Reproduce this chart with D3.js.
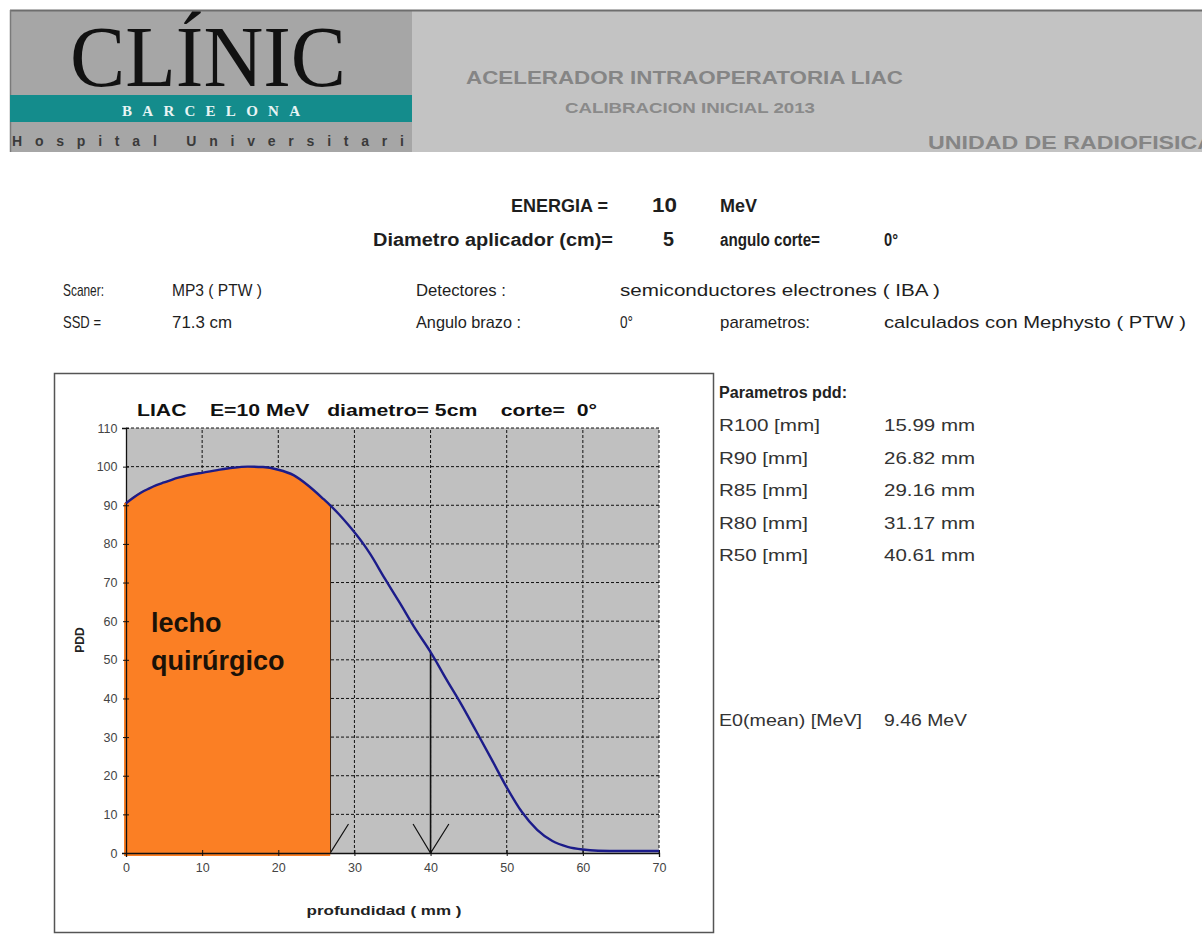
<!DOCTYPE html>
<html><head><meta charset="utf-8">
<script src="https://cdn.jsdelivr.net/npm/d3@7"></script>
<style>
body{margin:0;background:#fff;}
svg{display:block;font-family:"Liberation Sans",Arial,sans-serif;}
</style></head>
<body>
<svg id="c" width="1202" height="935"></svg>
<script>
// ---- data ----
const depth = [0,1,2,3,4,5,6,7,8,9,10,12,14,16,18,20,22,24,26,26.82,28,29.16,30,31.17,32,34,36,38,40,40.61,42,44,46,48,50,52,54,56,58,60,62,65,70];
const pdd   = [90.5,92,93.3,94.3,95.2,95.9,96.6,97.2,97.7,98.1,98.4,99.1,99.7,100,99.9,99.2,97.8,95,91.5,90,87.6,85,83,80,77.6,71,64.6,58,52,50,45.2,38.6,31.5,24.3,17,10.6,6,3.1,1.6,0.9,0.6,0.5,0.5];
const xTicks = [0,10,20,30,40,50,60,70];
const yTicks = [0,10,20,30,40,50,60,70,80,90,100,110];
const paramLabels = ["R100 [mm]","R90 [mm]","R85 [mm]","R80 [mm]","R50 [mm]"];
const paramValues = ["15.99 mm","26.82 mm","29.16 mm","31.17 mm","40.61 mm"];
const bedLimit = 26.82;      // R90 - lecho quirúrgico
const arrowDepths = [26.82, 40];

const svg = d3.select("#c");

// ---- header ----
svg.append("rect").attr("x",10).attr("y",10).attr("width",1192).attr("height",142).attr("fill","#c3c3c3");
svg.append("rect").attr("x",10).attr("y",10).attr("width",402).attr("height",142).attr("fill","#a6a6a6");
svg.append("line").attr("x1",10).attr("x2",1202).attr("y1",10.5).attr("y2",10.5).attr("stroke","#6e6e6e").attr("stroke-width",2);
svg.append("line").attr("x1",10.5).attr("x2",10.5).attr("y1",10).attr("y2",152).attr("stroke","#7a7a7a").attr("stroke-width",1.5);
svg.append("rect").attr("x",10).attr("y",95).attr("width",402).attr("height",27).attr("fill","#148c8c");
svg.append("text").attr("x",70).attr("y",86).attr("font-family","'Liberation Serif','Times New Roman',serif")
  .attr("font-size",86).attr("textLength",276).attr("lengthAdjust","spacingAndGlyphs").attr("fill","#111").text("CLÍNIC");
svg.append("text").attr("x",122).attr("y",116).attr("font-family","'Liberation Serif','Times New Roman',serif")
  .attr("font-size",15).attr("font-weight","bold").attr("textLength",178).attr("fill","#e8f4f4").text("BARCELONA");
svg.append("text").attr("x",12).attr("y",146).attr("font-size",14).attr("font-weight","bold").attr("fill","#3a3a3a")
  .attr("textLength",392).text("Hospital   Universitari");
svg.append("text").attr("x",466).attr("y",84).attr("font-size",18).attr("font-weight","bold").attr("fill","#858585")
  .attr("textLength",437).attr("lengthAdjust","spacingAndGlyphs").text("ACELERADOR INTRAOPERATORIA LIAC");
svg.append("text").attr("x",565).attr("y",113).attr("font-size",15).attr("font-weight","bold").attr("fill","#8a8a8a")
  .attr("textLength",250).attr("lengthAdjust","spacingAndGlyphs").text("CALIBRACION INICIAL 2013");
svg.append("text").attr("x",928).attr("y",149).attr("font-size",18).attr("font-weight","bold").attr("fill","#858585")
  .attr("textLength",286).attr("lengthAdjust","spacingAndGlyphs").text("UNIDAD DE RADIOFISICA");

// ---- info ----
function txt(x,y,s,opt={}){
  const t=svg.append("text").attr("x",x).attr("y",y).attr("font-size",opt.size||17)
    .attr("fill",opt.fill||"#1e1e1e").text(s);
  if(opt.bold) t.attr("font-weight","bold");
  if(opt.anchor) t.attr("text-anchor",opt.anchor);
  if(opt.len) t.attr("textLength",opt.len).attr("lengthAdjust","spacingAndGlyphs");
  return t;
}
txt(608,212,"ENERGIA =",{bold:true,size:18,anchor:"end",len:97});
txt(652,212,"10",{bold:true,size:21,len:25});
txt(720,212,"MeV",{bold:true,size:18,len:37});
txt(373,246,"Diametro aplicador (cm)=",{bold:true,size:18,len:240});
txt(663,246,"5",{bold:true,size:21,len:11});
txt(720,246,"angulo corte=",{bold:true,size:18,len:100});
txt(884,246,"0°",{bold:true,size:18,len:14});
txt(63,296,"Scaner:",{len:41});
txt(172,296,"MP3 ( PTW )",{len:90});
txt(416,296,"Detectores :",{len:90});
txt(620,296,"semiconductores electrones ( IBA )",{len:320});
txt(63,328,"SSD =",{len:38});
txt(172,328,"71.3 cm",{len:60});
txt(416,328,"Angulo brazo :",{len:105});
txt(620,328,"0°",{len:13});
txt(720,328,"parametros:",{len:90});
txt(884,328,"calculados con Mephysto ( PTW )",{len:302});

// ---- parameters ----
txt(719,398,"Parametros pdd:",{bold:true,size:16,fill:"#222",len:128});
paramLabels.forEach((l,i)=>{
  txt(719,431+i*32.5,l,{size:17,fill:"#333",len:i===0?101:89});
  txt(884,431+i*32.5,paramValues[i],{size:17,fill:"#333",len:91});
});
txt(719,726,"E0(mean) [MeV]",{size:17,fill:"#333",len:143});
txt(884,726,"9.46 MeV",{size:17,fill:"#333",len:83});

// ---- chart frame ----
svg.append("rect").attr("x",54.5).attr("y",373.5).attr("width",659).attr("height",559)
  .attr("fill","#fff").attr("stroke","#555").attr("stroke-width",1.5);

const x = d3.scaleLinear().domain([0,70]).range([126,659]);
const y = d3.scaleLinear().domain([0,110]).range([853,428]);
const g = svg.append("g");
g.append("rect").attr("x",x(0)).attr("y",y(110)).attr("width",x(70)-x(0)).attr("height",y(0)-y(110)).attr("fill","#c0c0c0");

// grid
g.selectAll(".gx").data(xTicks.filter(d=>d>0)).join("line")
  .attr("x1",d=>x(d)).attr("x2",d=>x(d)).attr("y1",y(0)).attr("y2",y(110))
  .attr("stroke","#111").attr("stroke-width",1).attr("stroke-dasharray","3,2");
g.selectAll(".gy").data(yTicks.filter(d=>d>0)).join("line")
  .attr("x1",x(0)).attr("x2",x(70)).attr("y1",d=>y(d)).attr("y2",d=>y(d))
  .attr("stroke","#111").attr("stroke-width",1).attr("stroke-dasharray","3,2");

// arrows
const arrowHalfL = 2.3, arrowHalfR = 2.4, arrowH = 7.5;
arrowDepths.forEach(a=>{
  const i = depth.indexOf(a);
  const top = i>=0 ? pdd[i] : pdd[d3.bisectLeft(depth,a)];
  g.append("line").attr("x1",x(a)).attr("x2",x(a)).attr("y1",y(top)).attr("y2",y(0))
    .attr("stroke","#111").attr("stroke-width",1.6);
  g.append("path").attr("d",`M${x(a-arrowHalfL)},${y(arrowH)}L${x(a)},${y(0)}L${x(a+arrowHalfR)},${y(arrowH)}`)
    .attr("fill","none").attr("stroke","#111").attr("stroke-width",1.2);
});

// orange bed area
const bed = depth.map((d,i)=>[d,pdd[i]]).filter(p=>p[0]<=bedLimit);
const bedArea = d3.area().x(p=>x(p[0])).y0(y(0)+3).y1(p=>y(p[1]));
g.append("path").datum(bed).attr("d",bedArea).attr("fill","#fb7f24").attr("transform","translate(-2,0)");
g.append("path").datum(bed).attr("d",bedArea).attr("fill","#fb7f24");

// axes
const xAxis = d3.axisBottom(x).tickValues(xTicks).tickSize(4).tickFormat(d3.format("d"));
const yAxis = d3.axisLeft(y).tickValues(yTicks).tickSize(4).tickFormat(d3.format("d"));
const gx = g.append("g").attr("transform",`translate(0,${y(0)})`).call(xAxis);
const gy = g.append("g").attr("transform",`translate(${x(0)},0)`).call(yAxis);
[gx,gy].forEach(a=>{
  a.select(".domain").attr("stroke","#111").attr("stroke-width",1.3);
  a.selectAll(".tick line").attr("stroke","#111");
  a.selectAll("text").attr("font-size",12.5).attr("fill","#444").attr("font-family","'Liberation Sans',Arial,sans-serif");
});
gx.selectAll(".tick line").attr("y1",-3).attr("y2",3);
gy.selectAll(".tick line").attr("x1",3).attr("x2",-3);
gx.selectAll("text").attr("y",6).attr("dy","1em");
gy.selectAll("text").attr("x",-6).attr("dx","-0.2em");

// curve
g.append("path").datum(depth.map((d,i)=>[d,pdd[i]]))
  .attr("d",d3.line().x(p=>x(p[0])).y(p=>y(p[1])).curve(d3.curveMonotoneX))
  .attr("fill","none").attr("stroke","#1c1c8a").attr("stroke-width",2.4);

// chart texts
txt(137,416,"LIAC    E=10 MeV   diametro= 5cm    corte=  0°",{bold:true,size:16,fill:"#111",len:460}).style("white-space","pre");
txt(151,632,"lecho",{bold:true,size:27,fill:"#1a1208"});
txt(151,670,"quirúrgico",{bold:true,size:27,fill:"#1a1208"});
svg.append("text").attr("transform","translate(84,640) rotate(-90)").attr("text-anchor","middle")
  .attr("font-size",12).attr("font-weight","bold").attr("fill","#222").text("PDD");
txt(384,915,"profundidad ( mm )",{bold:true,size:13,fill:"#222",anchor:"middle",len:155});
</script>
</body></html>
